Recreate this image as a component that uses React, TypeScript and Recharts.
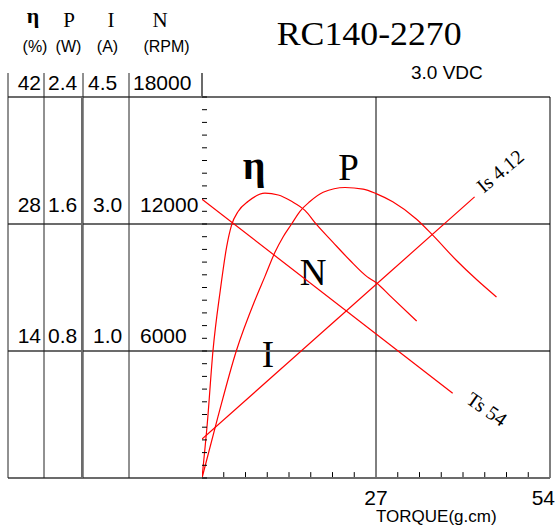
import { ComposedChart, Line, XAxis, YAxis, ReferenceLine } from 'recharts'

// torque (g.cm) -> efficiency (%)
const etaTorque = [0, 0.82, 1.7, 2.84, 3.83, 4.6, 5.63, 7.18, 9.77, 11.83, 13.9, 15.97, 17.83, 20.3, 22.95, 25.6, 27.1, 29.15, 33.3]
const etaValues = [0, 6.0, 14.0, 20.7, 25.5, 27.9, 29.4, 30.5, 31.4, 31.2, 30.5, 29.5, 27.9, 26.0, 24.0, 22.2, 21.5, 20.1, 17.3]

// torque -> output power (W)
const powerTorque = [0, 2.48, 5.32, 8.22, 9.77, 11.3, 12.6, 13.9, 15.2, 16.7, 18.8, 22.2, 25.0, 27.1, 29.6, 33.3, 35.8, 39.5, 42.6, 45.7]
const powerValues = [0, 0.386, 0.8, 1.12, 1.27, 1.42, 1.52, 1.6, 1.68, 1.74, 1.8, 1.83, 1.82, 1.79, 1.74, 1.63, 1.53, 1.37, 1.25, 1.14]

// torque -> current (A)
const currentTorque = [0, 42.3]
const currentValues = [0.46, 3.32]

// torque -> speed (RPM)
const speedTorque = [0, 38.9]
const speedValues = [13170, 4000]

// left scale labels, top row first
const etaLabels = ['42', '28', '14']
const powerLabels = ['2.4', '1.6', '0.8']
const currentLabels = ['4.5', '3.0', '1.0']
const speedLabels = ['18000', '12000', '6000']

const torqueGrid = [27, 54]
const etaGrid = [14, 28, 42]
const torqueLabels = [27, 54]
const torqueMinor = Array.from({ length: 15 }, (_, i) => (i + 1) * 3.375).filter((t) => t !== 27)
const speedTicks = Array.from({ length: 31 }, (_, i) => i * 600)

const SANS = '"Liberation Sans", Arial, sans-serif'
const SERIF = '"Liberation Serif", "Times New Roman", serif'
const RED = '#ff0000'
const GRID = '#6b6b6b'

const PLOT_LEFT = 202
const PLOT_BOTTOM = 478

const toPoints = (t: number[], v: number[]) => t.map((x, i) => ({ t: x, v: v[i] }))

const etaData = toPoints(etaTorque, etaValues)
const powerData = toPoints(powerTorque, powerValues)
const currentData = toPoints(currentTorque, currentValues)
const speedData = toPoints(speedTorque, speedValues)

const rowBaselines = [90, 212, 343]
const rowLines = [97, 224, 351, 478]

function TorqueTick(props: any) {
  const { x, payload } = props
  const v = payload.value
  const last = v === 54
  return (
    <text
      x={last ? x + 5 : x}
      y={505}
      textAnchor={last ? 'end' : 'middle'}
      fontFamily={SANS}
      fontSize={21}
      fill="#000"
    >
      {v}
    </text>
  )
}

function SpeedTick(props: any) {
  const { y } = props
  return <line x1={PLOT_LEFT} x2={PLOT_LEFT + 5} y1={y} y2={y} stroke="#000" />
}

function Frame() {
  return (
    <svg width={557} height={529} style={{ position: 'absolute', left: 0, top: 0 }}>
      {rowLines.map((y) => (
        <line key={y} x1={8} x2={PLOT_LEFT} y1={y} y2={y} stroke={GRID} strokeWidth={2} />
      ))}
      {[8, 44, 83, 129].map((x) => (
        <line key={x} x1={x} x2={x} y1={73} y2={PLOT_BOTTOM} stroke="#222" strokeWidth={1} />
      ))}
      <line x1={PLOT_LEFT} x2={PLOT_LEFT} y1={73} y2={98} stroke={GRID} strokeWidth={2} />

      <text x={33} y={23} textAnchor="middle" fontFamily={SERIF} fontWeight="bold" fontSize={22}>η</text>
      <text x={69} y={27} textAnchor="middle" fontFamily={SERIF} fontSize={21}>P</text>
      <text x={111} y={27} textAnchor="middle" fontFamily={SERIF} fontSize={21}>I</text>
      <text x={160} y={27} textAnchor="middle" fontFamily={SERIF} fontSize={21}>N</text>

      <text x={35} y={52} textAnchor="middle" fontFamily={SANS} fontSize={16}>(%)</text>
      <text x={68.5} y={52} textAnchor="middle" fontFamily={SANS} fontSize={16}>(W)</text>
      <text x={107.5} y={52} textAnchor="middle" fontFamily={SANS} fontSize={16}>(A)</text>
      <text x={166.5} y={52} textAnchor="middle" fontFamily={SANS} fontSize={16}>(RPM)</text>

      {rowBaselines.map((y, i) => (
        <g key={y} fontFamily={SANS} fontSize={21} fill="#000">
          <text x={41} y={y} textAnchor="end">{etaLabels[i]}</text>
          <text x={48} y={y}>{powerLabels[i]}</text>
          <text x={i === 0 ? 88 : 93} y={y}>{currentLabels[i]}</text>
          <text x={i === 0 ? 133 : 140} y={y}>{speedLabels[i]}</text>
        </g>
      ))}

      <text x={276.7} y={45} fontFamily={SERIF} fontSize={34} textLength={185} lengthAdjust="spacingAndGlyphs">
        RC140-2270
      </text>
      <text x={411} y={79} fontFamily={SANS} fontSize={19}>3.0 VDC</text>
      <text x={376} y={522} fontFamily={SANS} fontSize={17}>TORQUE(g.cm)</text>

      <text x={254} y={179} textAnchor="middle" fontFamily={SERIF} fontWeight="bold" fontSize={40}>η</text>
      <text x={348.5} y={180} textAnchor="middle" fontFamily={SERIF} fontSize={37}>P</text>
      <text x={313} y={285} textAnchor="middle" fontFamily={SERIF} fontSize={37}>N</text>
      <text x={268} y={367} textAnchor="middle" fontFamily={SERIF} fontSize={37}>I</text>

      <text
        x={500}
        y={178}
        textAnchor="middle"
        fontFamily={SERIF}
        fontSize={20}
        transform="rotate(-40 500 171)"
      >
        Is 4.12
      </text>
      <text
        x={487}
        y={416}
        textAnchor="middle"
        fontFamily={SERIF}
        fontSize={20}
        transform="rotate(35 487 409)"
      >
        Ts 54
      </text>
    </svg>
  )
}

export default function App() {
  return (
    <div style={{ position: 'absolute', left: 0, top: 0, width: 557, height: 529, background: '#fff' }}>
      <Frame />
      <div style={{ position: 'absolute', left: 0, top: 0 }}>
        <ComposedChart width={557} height={529} margin={{ top: 97, right: 7, bottom: 21, left: 192 }}>
          <XAxis
            dataKey="t"
            type="number"
            domain={[0, 54]}
            ticks={torqueLabels}
            interval={0}
            height={30}
            allowDataOverflow
            tickLine={false}
            axisLine={{ stroke: GRID, strokeWidth: 2 }}
            tick={<TorqueTick />}
          />
          <YAxis
            yAxisId="n"
            type="number"
            domain={[0, 18000]}
            ticks={speedTicks}
            interval={0}
            width={10}
            tickLine={false}
            axisLine={{ stroke: GRID, strokeWidth: 2 }}
            tick={<SpeedTick />}
          />
          <YAxis yAxisId="eta" type="number" domain={[0, 42]} hide />
          <YAxis yAxisId="p" type="number" domain={[0, 2.4]} hide />
          <YAxis yAxisId="i" type="number" domain={[0, 4.5]} hide />

          {etaGrid.map((v) => (
            <ReferenceLine key={`h${v}`} yAxisId="eta" y={v} stroke={GRID} strokeWidth={2} />
          ))}
          {torqueGrid.map((v) => (
            <ReferenceLine key={`v${v}`} yAxisId="eta" x={v} stroke="#000" strokeWidth={1} />
          ))}
          {torqueMinor.map((t) => (
            <ReferenceLine
              key={`m${t}`}
              yAxisId="eta"
              segment={[{ x: t, y: 0 }, { x: t, y: 0.65 }]}
              stroke="#000"
              strokeWidth={1}
            />
          ))}

          <Line yAxisId="eta" data={etaData} dataKey="v" type="monotone" stroke={RED} strokeWidth={1.2} dot={false} isAnimationActive={false} />
          <Line yAxisId="p" data={powerData} dataKey="v" type="monotone" stroke={RED} strokeWidth={1.2} dot={false} isAnimationActive={false} />
          <Line yAxisId="i" data={currentData} dataKey="v" type="linear" stroke={RED} strokeWidth={1.2} dot={false} isAnimationActive={false} />
          <Line yAxisId="n" data={speedData} dataKey="v" type="linear" stroke={RED} strokeWidth={1.2} dot={false} isAnimationActive={false} />
        </ComposedChart>
      </div>
    </div>
  )
}
